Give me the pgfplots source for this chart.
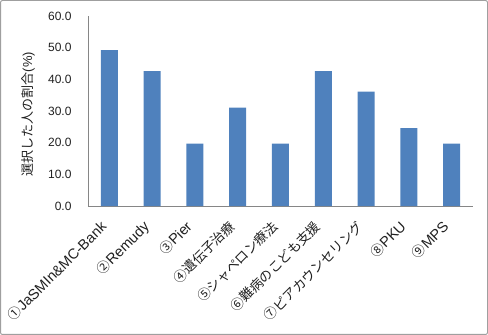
\documentclass[border=0pt]{standalone}
\usepackage{pgfplots}
\pgfplotsset{compat=1.18}
\usepackage{fontspec}
\setmainfont{Liberation Sans}
\newfontfamily\cjk{Noto Sans CJK JP}
\newcommand\lat[1]{{\fontsize{14.5}{17}\selectfont #1}}
\definecolor{barblue}{HTML}{4F81BD}
\definecolor{axgray}{HTML}{868686}
\definecolor{txt}{HTML}{202020}
\begin{document}
\begin{tikzpicture}
\path[use as bounding box] (0pt,0pt) rectangle (488pt,335pt);
\draw[draw=gray!75, line width=1pt, rounded corners=2pt] (0.5pt,0.5pt) rectangle (487.5pt,334.5pt);
\begin{axis}[
  at={(88pt,129pt)}, anchor=south west,
  width=385pt, height=190pt, scale only axis,
  ymin=0, ymax=60, ytick={0,10,...,60},
  xmin=-0.5, xmax=8.5, xtick={0,...,8},
  xticklabels={{\cjk ①}\lat{JaSMIn\&MC-Bank},{\cjk ②}\lat{Remudy},{\cjk ③}\lat{Pier},{\cjk ④遺伝子治療},{\cjk ⑤シャペロン療法},{\cjk ⑥難病のこども支援},{\cjk ⑦ピアカウンセリング},{\cjk ⑧}\lat{PKU},{\cjk ⑨}\lat{MPS}},
  axis x line*=bottom, axis y line*=left,
  axis line style={axgray, line width=0.8pt},
  major tick length=0pt,
  tick style={draw=none},
  yticklabel style={/pgf/number format/fixed, /pgf/number format/fixed zerofill, /pgf/number format/precision=1, /pgf/number format/assume math mode=true},
  yticklabel style={font=\fontsize{12}{14}\selectfont, text=txt, xshift=-13pt},
  xticklabel style={font=\fontsize{13.3}{15}\selectfont, text=txt, xshift=-10pt, yshift=-12pt, rotate=45, anchor=north east, inner sep=1pt},
  ylabel={{\cjk 選択した人の割合}(\%)},
  ylabel style={font=\fontsize{13}{15}\selectfont, text=txt, at={(axis description cs:-0.156,0.484)}, anchor=center},
  clip=false,
]
\addplot[ybar, bar width=17pt, fill=barblue, draw=none] coordinates {
(0,49.2) (1,42.6) (2,19.7) (3,31.1) (4,19.7) (5,42.6) (6,36.1) (7,24.6) (8,19.7)};
\end{axis}
\end{tikzpicture}
\end{document}
